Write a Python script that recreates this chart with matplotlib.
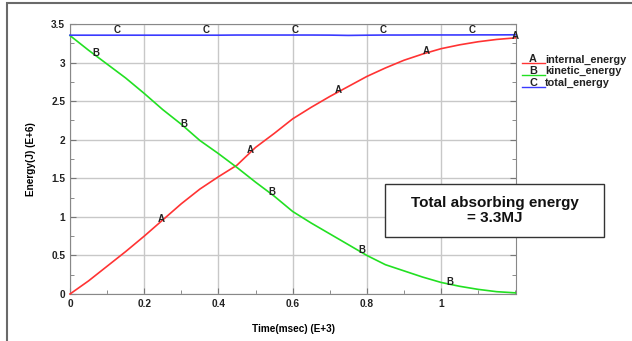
import matplotlib
matplotlib.use("Agg")
import matplotlib.pyplot as plt
from matplotlib.patches import Rectangle
from matplotlib.lines import Line2D
from matplotlib.ticker import MultipleLocator
import numpy as np

plt.rcParams["font.family"] = ["Liberation Sans", "DejaVu Sans"]

# time in msec (E+3), energy in J (E+6)
time = [0, 0.05, 0.1, 0.15, 0.2, 0.25, 0.3, 0.35, 0.4, 0.45, 0.5, 0.55,
        0.6, 0.65, 0.7, 0.75, 0.8, 0.85, 0.9, 0.95, 1.0, 1.05, 1.1, 1.15, 1.2]
internal_energy = [0, 0.17, 0.36, 0.55, 0.75, 0.96, 1.17, 1.36, 1.52, 1.67,
                   1.90, 2.08, 2.27, 2.42, 2.56, 2.69, 2.82, 2.93, 3.03, 3.11,
                   3.18, 3.23, 3.27, 3.30, 3.32]
kinetic_energy = [3.35, 3.16, 2.98, 2.80, 2.60, 2.39, 2.20, 1.99, 1.82, 1.64,
                  1.45, 1.27, 1.07, 0.92, 0.78, 0.64, 0.50, 0.38, 0.30, 0.22,
                  0.15, 0.10, 0.06, 0.03, 0.015]
total_energy = [3.355, 3.355, 3.355, 3.355, 3.355, 3.355, 3.355, 3.355, 3.355,
                3.357, 3.357, 3.357, 3.357, 3.357, 3.356, 3.352, 3.355, 3.357,
                3.357, 3.358, 3.358, 3.358, 3.359, 3.359, 3.36]
x_ticks = [0, 0.2, 0.4, 0.6, 0.8, 1.0]

series = [
    ("A", "internal_energy", internal_energy, "#ff3333", [0.247, 0.485, 0.723, 0.961, 1.199]),
    ("B", "kinetic_energy", kinetic_energy, "#22e022", [0.069, 0.307, 0.545, 0.786, 1.024]),
    ("C", "total_energy", total_energy, "#3a3aff", [0.127, 0.368, 0.606, 0.845, 1.085]),
]

fig = plt.figure(figsize=(6.32, 3.41), dpi=100)
ax = fig.add_axes([70 / 632, 1 - 294 / 341, 446 / 632, 270 / 341])

for letter, name, vals, col, marks in series:
    ax.plot(time, vals, color=col, lw=1.2, zorder=3, clip_on=False)
    for m in marks:
        v = np.interp(m, time, vals)
        dy = 0.07 if letter == "C" else 0.03
        ax.text(m, v + dy, letter, fontsize=7, fontweight="bold", color="#222222",
                ha="center", va="center", zorder=4)

ax.set_xlim(0, 1.202)
ax.set_ylim(0, 3.5)
ax.set_xticks(x_ticks)
ax.xaxis.set_minor_locator(MultipleLocator(0.1))
ax.yaxis.set_major_locator(MultipleLocator(0.5))
ax.yaxis.set_minor_locator(MultipleLocator(0.25))
ax.xaxis.set_major_formatter(lambda v, p: f"{v:g}")
ax.yaxis.set_major_formatter(lambda v, p: f"{v:g}")
ax.tick_params(which="both", direction="in", right=True, colors="#777777",
               labelcolor="#222222", labelsize=7.3)
ax.tick_params(which="major", length=4)
ax.tick_params(which="minor", length=3)
for lab in ax.get_xticklabels() + ax.get_yticklabels():
    lab.set_fontweight("bold")
ax.grid(True, which="major", color="#c8c8c8", lw=1.0, zorder=0)
for sp in ax.spines.values():
    sp.set_color("#888888")

ax.set_xlabel("Time(msec) (E+3)", fontsize=7.2, fontweight="bold", labelpad=11)
ax.set_ylabel("Energy(J) (E+6)", fontsize=7.2, fontweight="bold", labelpad=11)

# legend drawn by hand: letter sits on the line sample
for i, (letter, name, vals, col, marks) in enumerate(series):
    ty = 1 - (59.5 + 11.7 * i) / 341
    ly = 1 - (62.5 + 12.3 * i) / 341
    fig.add_artist(Line2D([521.5 / 632, 545 / 632], [ly, ly], color=col, lw=1.0))
    fig.text(533 / 632, ty, letter, fontsize=7.8, fontweight="bold", color="#222222",
             ha="center", va="center")
    fig.text(545 / 632, ty, name, fontsize=7.8, fontweight="bold", color="#222222",
             ha="left", va="center")

# annotation box
fig.add_artist(Rectangle((385 / 632, 1 - 237 / 341), 219 / 632, 53 / 341,
                         transform=fig.transFigure, facecolor="white",
                         edgecolor="#333333", lw=1.0))
fig.text(494.5 / 632, 1 - 210.5 / 341, "Total absorbing energy\n= 3.3MJ",
         fontsize=11, fontweight="bold", ha="center", va="center",
         linespacing=1.05, color="#111111")

# outer frame
fig.add_artist(Rectangle((7 / 632, -0.01), 1.0, 1 - 3 / 341 + 0.01,
                         transform=fig.transFigure, fill=False,
                         edgecolor="#6a6a6a", lw=1.5))

fig.savefig("out.png", dpi=100)
